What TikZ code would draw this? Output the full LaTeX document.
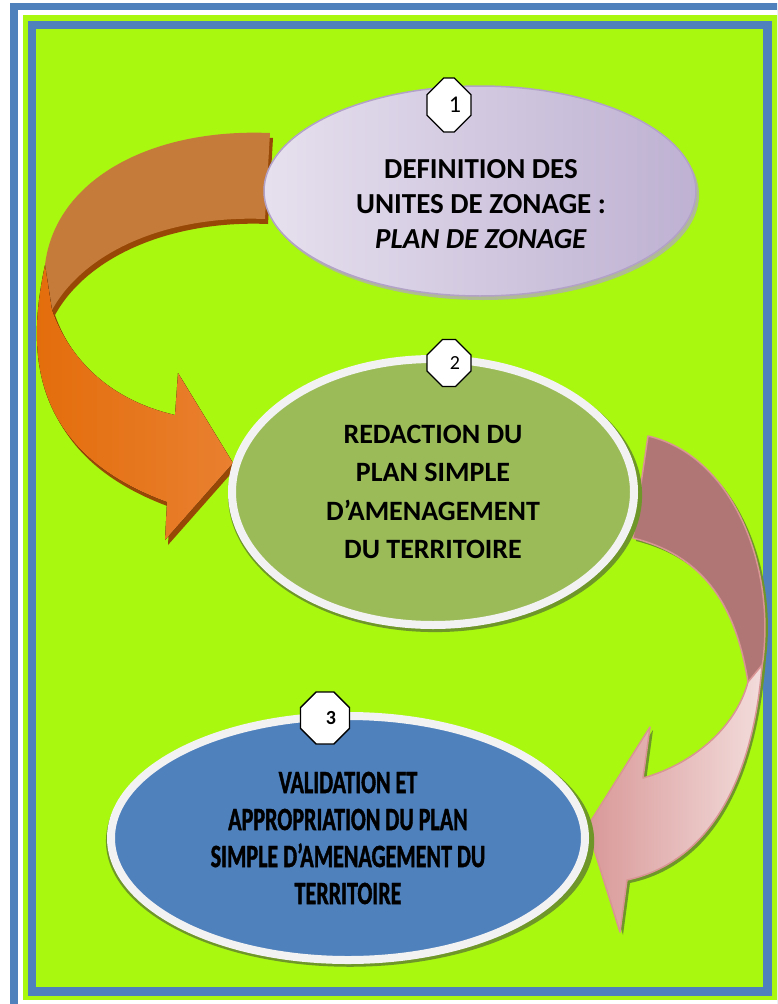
\documentclass[tikz,border=0pt]{standalone}
\usepackage{fontspec}
\setmainfont{Carlito}
\newfontfamily\condfont{Carlito}[FakeStretch=0.68,FakeBold=1.2]
\usetikzlibrary{shapes.geometric,shapes.misc,shadows}

\definecolor{limeBg}{RGB}{168,248,16}
\definecolor{frameBlue}{RGB}{79,129,189}
\definecolor{purpleL}{RGB}{230,224,238}
\definecolor{purpleD}{RGB}{190,177,210}
\definecolor{purpleLine}{RGB}{179,162,199}
\definecolor{greenFill}{RGB}{155,187,89}
\definecolor{ringWhite}{RGB}{242,242,242}
\definecolor{shadowGreen}{RGB}{110,150,40}
\definecolor{orangeD}{RGB}{227,108,9}
\definecolor{orangeL}{RGB}{240,150,74}
\definecolor{orangeM}{RGB}{233,128,48}
\definecolor{orangeBack}{RGB}{197,123,58}
\definecolor{orangeShadow}{RGB}{151,72,6}
\definecolor{pinkBack}{RGB}{176,118,118}
\definecolor{pinkLine}{RGB}{217,149,148}
\definecolor{pinkL}{RGB}{242,220,219}
\definecolor{pinkD}{RGB}{217,152,152}

\begin{document}
\begin{tikzpicture}[x=1pt,y=-1pt,
            bubble/.style={ellipse, inner sep=0pt, align=center},
            ringed/.style={bubble, draw=ringWhite, line width=8pt, drop shadow={shadow xshift=2pt, shadow yshift=-3pt, shadow scale=1.03, fill=shadowGreen, opacity=1}},
            numbox/.style={chamfered rectangle, chamfered rectangle xsep=9pt, chamfered rectangle ysep=9pt, draw=black, line width=1.3pt, fill=white, inner sep=0pt},
            ribbon/.style={line join=round}
        ]

            % Page and frames
            \fill[white] (0,0) rectangle (777,1004);
            \useasboundingbox (0,0) rectangle (777,1004);
            \clip (0,0) rectangle (777,1004);
            \fill[frameBlue] (10,3) rectangle (790,1030);
            \fill[white] (18,10) rectangle (790,1030);
            \fill[limeBg] (23,15) rectangle (790,1000);
            \fill[frameBlue] (28,21) rectangle (772,996);
            \fill[limeBg] (36,29) rectangle (763,987);

            % Orange arrow (1 to 2)
            \begin{scope}[shift={(3,5)}]
                \fill[orangeShadow] (270,133) .. controls (150,128) and (55,180) .. (45,265)
                    .. controls (28,345) and (25,450) .. (167,502) -- (165,540) -- (233,463) -- (178,373) -- (175,415)
                    .. controls (110,400) and (70,360) .. (52,310)
                    .. controls (85,250) and (170,215) .. (265,219) -- cycle;
            \end{scope}
            \fill[ribbon, orangeBack] (270,133) .. controls (150,128) and (55,180) .. (45,265)
                -- (52,310) .. controls (85,250) and (170,215) .. (265,219) -- cycle;
            \fill[ribbon, left color=orangeD, middle color=orangeL, right color=orangeM]
                (45,265) .. controls (28,345) and (25,450) .. (167,502) -- (165,540) -- (233,463) -- (178,373) -- (175,415)
                .. controls (110,400) and (70,360) .. (52,310) -- cycle;

            % Pink arrow (2 to 3)
            \begin{scope}[shift={(3,3)}]
                \fill[shadowGreen] (648,436) .. controls (730,455) and (775,560) .. (763,655)
                    .. controls (755,760) and (720,860) .. (627,880) -- (620,932) -- (587,827) -- (650,727) -- (643,778)
                    .. controls (690,765) and (735,730) .. (748,682)
                    .. controls (735,600) and (700,555) .. (633,538) -- cycle;
            \end{scope}
            \filldraw[ribbon, fill=pinkBack, draw=pinkLine, line width=1.5pt] (648,436) .. controls (730,455) and (775,560) .. (763,660)
                -- (756,705) -- (748,682) .. controls (735,600) and (700,555) .. (633,538) -- cycle;
            \filldraw[ribbon, left color=pinkD, right color=pinkL, draw=pinkLine, line width=1.5pt]
                (762,665) .. controls (755,760) and (720,860) .. (627,880) -- (620,932) -- (587,827) -- (650,727) -- (643,778)
                .. controls (690,765) and (735,730) .. (748,682) -- cycle;

            % First Bubble
            \node[bubble, minimum width=432pt, minimum height=210pt, draw=purpleLine, line width=1.5pt,
                left color=purpleL, right color=purpleD,
                drop shadow={shadow xshift=3pt, shadow yshift=-4pt, fill=purpleLine, opacity=0.7}] (zonage) at (480,191) {};
            \node[align=center, font=\bfseries\fontsize{29}{35}\selectfont] (zonageText) at (481,204) {
                DEFINITION DES\\UNITES DE ZONAGE :\\\textit{PLAN DE ZONAGE}
            };
            % Second Bubble
            \node[ringed, minimum width=402pt, minimum height=266pt, fill=greenFill,
                font=\bfseries\fontsize{28}{38.5}\selectfont] (redaction) at (433,492) {
                REDACTION DU\\PLAN SIMPLE\\D’AMENAGEMENT\\DU TERRITOIRE
            };
            % Third Bubble
            \node[ringed, minimum width=474pt, minimum height=244pt, fill=frameBlue,
                font=\condfont\bfseries\fontsize{32.5}{37}\selectfont] (validation) at (348,838) {
                VALIDATION ET\\APPROPRIATION DU PLAN\\SIMPLE D’AMENAGEMENT DU\\TERRITOIRE
            };

            % Step numbers
            \node[numbox, minimum width=44pt, minimum height=54pt, font=\fontsize{24}{24}\selectfont] (one) at (449,105) {\hspace*{12pt}1};
            \node[numbox, minimum width=44pt, minimum height=47pt, font=\fontsize{20}{20}\selectfont] (two) at (449,363) {\hspace*{12pt}2};
            \node[numbox, minimum width=49pt, minimum height=52pt, font=\bfseries\fontsize{20}{20}\selectfont] (three) at (325,718) {\hspace*{12pt}3};

        \end{tikzpicture}
\end{document}
